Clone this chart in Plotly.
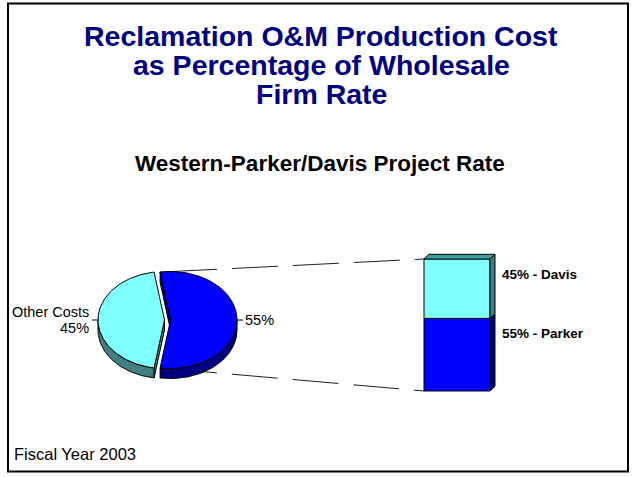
import numpy as np
import plotly.graph_objects as go

# --- data ---
PIE_VALUES = [55, 45]
PIE_LABELS = ["", "Other Costs"]
BAR_LABELS = ["Parker", "Davis"]
BAR_VALUES = [55, 45]
TITLE_LINES = [
    "Reclamation O&M Production Cost",
    "as Percentage of Wholesale",
    "Firm Rate",
]
SUBTITLE = "Western-Parker/Davis Project Rate"
FOOTNOTE = "Fiscal Year 2003"

# --- layout (pixels of the 632x477 page) ---
W, H = 632, 477
FONT = "Liberation Sans, Arial, sans-serif"

PIE_CX, PIE_CY = 164.5, 320
PIE_RX, PIE_RY = 66.5, 48.5
PIE_DEPTH = 10
EXPLODE = [6, 0]
PIE_TOP = ["#0000ff", "#80ffff"]
PIE_SIDE = ["#000080", "#408080"]

BAR_X0, BAR_X1 = 424, 490
BAR_BOTTOM, BAR_H = 391, 132
BAR_DX, BAR_DY = 5, 4.7
BAR_FRONT = ["#0000ff", "#80ffff"]
BAR_SIDE = ["#000080", "#408080"]
BAR_TOPFACE = "#40a0a0"

fig = go.Figure()


def poly(xs, ys, fill, width=1):
    fig.add_trace(go.Scatter(
        x=list(xs), y=list(ys), mode="lines", fill="toself",
        fillcolor=fill, line=dict(color="black", width=width),
        hoverinfo="skip",
    ))


def ell_pt(cx, cy, deg, dy=0):
    t = np.radians(deg)
    return cx + PIE_RX * np.cos(t), cy - PIE_RY * np.sin(t) + dy


# slice angles, counter-clockwise from 3 o'clock, first slice centred on the right
total = sum(PIE_VALUES)
angles = []
a = -PIE_VALUES[0] / total * 180
for v in PIE_VALUES:
    span = v / total * 360
    angles.append((a, a + span))
    a += span

centres = []
for i, (a0, a1) in enumerate(angles):
    mid = np.radians((a0 + a1) / 2)
    centres.append((PIE_CX + EXPLODE[i] * np.cos(mid), PIE_CY - EXPLODE[i] * np.sin(mid)))

# --- leader lines pie -> bar (drawn under the pie) ---
bar_total = sum(BAR_VALUES)
bar_top = BAR_BOTTOM - BAR_H
cx0, cy0 = centres[0]
tx, ty = ell_pt(cx0, cy0, angles[0][1])
bx, by = ell_pt(cx0, cy0, angles[0][0])
dash = "57px,15px,46px,15px,46px,15px,46px,15px,46px,15px"
for (sx, sy), ey in [((tx, ty), bar_top), ((bx, by), BAR_BOTTOM)]:
    fig.add_trace(go.Scatter(
        x=[sx, BAR_X0], y=[sy, ey], mode="lines",
        line=dict(color="#202020", width=1, dash=dash), hoverinfo="skip",
    ))

# --- pie sides (outer wall + front facing cut faces) ---
for i, (a0, a1) in enumerate(angles):
    cx, cy = centres[i]
    for k in (-1, 0, 1):
        lo, hi = max(a0, 180 + 360 * k), min(a1, 360 + 360 * k)
        if hi > lo:
            t = np.linspace(lo, hi, 60)
            x1, y1 = ell_pt(cx, cy, t)
            x2, y2 = ell_pt(cx, cy, t[::-1], PIE_DEPTH)
            poly(np.r_[x1, x2, x1[0]], np.r_[y1, y2, y1[0]], PIE_SIDE[i])
    for edge, visible in [(a0, np.cos(np.radians(a0)) > 0), (a1, np.cos(np.radians(a1)) < 0)]:
        if visible:
            ex, ey = ell_pt(cx, cy, edge)
            poly([cx, ex, ex, cx, cx], [cy, ey, ey + PIE_DEPTH, cy + PIE_DEPTH, cy], PIE_SIDE[i])

# --- pie tops ---
for i, (a0, a1) in enumerate(angles):
    cx, cy = centres[i]
    t = np.linspace(a0, a1, 120)
    x, y = ell_pt(cx, cy, t)
    poly(np.r_[cx, x, cx], np.r_[cy, y, cy], PIE_TOP[i])

# --- pie labels ---
annotations = []
for i, (a0, a1) in enumerate(angles):
    cx, cy = centres[i]
    mid = (a0 + a1) / 2
    px, py = ell_pt(cx, cy, mid)
    right = np.cos(np.radians(mid)) > 0
    ex = px + (6 if right else -6)
    fig.add_trace(go.Scatter(x=[px, ex], y=[py, py], mode="lines",
                             line=dict(color="black", width=1), hoverinfo="skip"))
    pct = f"{PIE_VALUES[i] / total * 100:.0f}%"
    anchor = "left" if right else "right"
    tx_ = ex if right else ex - 1
    if PIE_LABELS[i]:
        annotations.append(dict(x=tx_, y=py - 8.3, text=PIE_LABELS[i], xanchor=anchor,
                                font=dict(size=14.5, color="black")))
        annotations.append(dict(x=tx_, y=py + 8, text=pct, xanchor=anchor,
                                font=dict(size=14.5, color="black")))
    else:
        annotations.append(dict(x=tx_, y=py - 0.5, text=pct, xanchor=anchor,
                                font=dict(size=14.5, color="black")))

# --- stacked bar ---
cum = 0
for i, v in enumerate(BAR_VALUES):
    h = v / bar_total * BAR_H
    y_top = BAR_BOTTOM - cum - h
    fig.add_trace(go.Bar(
        x=[(BAR_X0 + BAR_X1) / 2], y=[h], base=[y_top], width=[BAR_X1 - BAR_X0],
        marker=dict(color=BAR_FRONT[i], line=dict(color="black", width=1)),
        hoverinfo="skip",
    ))
    # right side face of the segment
    poly([BAR_X1, BAR_X1 + BAR_DX, BAR_X1 + BAR_DX, BAR_X1, BAR_X1],
         [y_top + h, y_top + h - BAR_DY, y_top - BAR_DY, y_top, y_top + h], BAR_SIDE[i])
    annotations.append(dict(x=BAR_X1 + BAR_DX + 5, y=y_top + 15.5,
                            text=f"{v}% - {BAR_LABELS[i]}", xanchor="left",
                            font=dict(size=13.5, color="black", weight="bold")))
    cum += h

# top face of the bar
poly([BAR_X0, BAR_X0 + BAR_DX, BAR_X1 + BAR_DX, BAR_X1, BAR_X0],
     [bar_top, bar_top - BAR_DY, bar_top - BAR_DY, bar_top, bar_top], BAR_TOPFACE)

# --- titles ---
for line, yc in zip(TITLE_LINES, [35.5, 65, 94]):
    annotations.append(dict(x=321, y=yc, text=line, xanchor="center",
                            font=dict(size=28.5, color="#000080", weight="bold")))
annotations.append(dict(x=320, y=163.5, text=SUBTITLE, xanchor="center",
                        font=dict(size=22.5, color="black", weight="bold")))
annotations.append(dict(x=12, y=453.5, text=FOOTNOTE, xanchor="left",
                        font=dict(size=16.5, color="black")))

for an in annotations:
    an.update(xref="x", yref="y", yanchor="middle", showarrow=False)
    an["font"]["family"] = FONT

fig.update_layout(
    width=W, height=H, autosize=False,
    margin=dict(l=0, r=0, t=0, b=0),
    paper_bgcolor="white", plot_bgcolor="white",
    showlegend=False, barmode="overlay",
    xaxis=dict(range=[0, W], visible=False, fixedrange=True),
    yaxis=dict(range=[H, 0], visible=False, fixedrange=True),
    annotations=annotations,
    shapes=[dict(type="rect", xref="x", yref="y", x0=8, x1=628, y0=3.5, y1=471.5,
                 line=dict(color="black", width=2))],
    font=dict(family=FONT),
)

# the page body has an 8px default margin; drop it so the figure sits at 0,0
fig.write_html("out.html", config={"displayModeBar": False},
               post_script="document.body.style.margin='0';")
